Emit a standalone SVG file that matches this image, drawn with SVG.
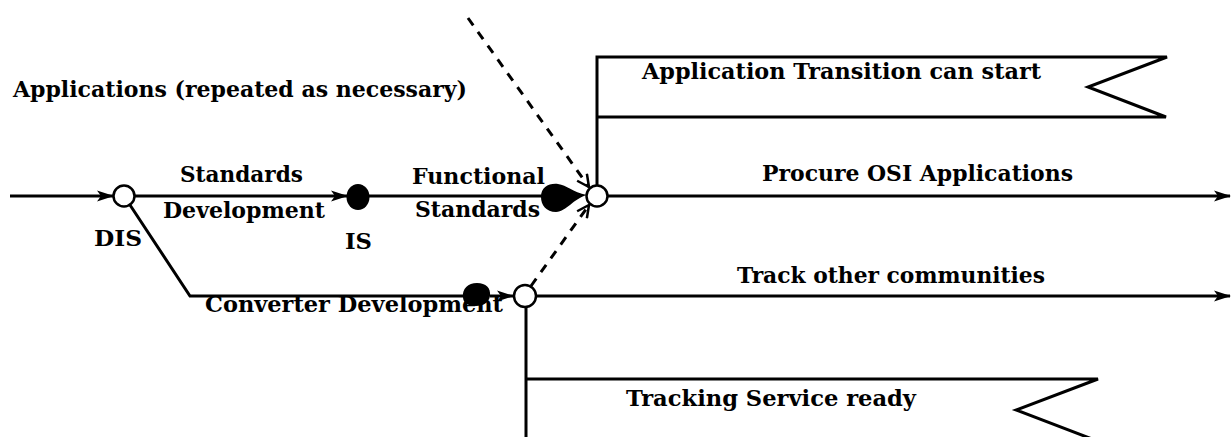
<svg xmlns="http://www.w3.org/2000/svg" width="1232" height="437" viewBox="0 0 1232 437">
  <style>
    .ln { stroke: #000; stroke-width: 3; fill: none; }
    .dash { stroke: #000; stroke-width: 3; fill: none; stroke-dasharray: 9 8; }
    .ev { fill: #fff; stroke: #000; stroke-width: 2.5; }
    .ms { fill: #000; stroke: none; }
    .flag { stroke: #000; stroke-width: 3; fill: none; stroke-linejoin: miter; }
    text { font-family: "DejaVu Serif", "Liberation Serif", serif; font-weight: bold; font-size: 22px; fill: #000; }
  </style>
  <defs>
    <marker id="arr" markerUnits="userSpaceOnUse" markerWidth="18" markerHeight="13" refX="16" refY="6.5" orient="auto">
      <path d="M0,1 L17,6.5 L0,12 L4,6.5 Z" fill="#000"/>
    </marker>
    <marker id="barb" markerUnits="userSpaceOnUse" markerWidth="16" markerHeight="14" refX="13" refY="7" orient="auto">
      <path d="M1,1 L13,7 L1,13" fill="none" stroke="#000" stroke-width="2.5"/>
    </marker>
  </defs>

  <!-- heading -->
  <text x="13" y="97" textLength="454" lengthAdjust="spacingAndGlyphs">Applications (repeated as necessary)</text>

  <!-- connectors -->
  <g id="connectors">
    <line class="ln" x1="10" y1="196" x2="113" y2="196" marker-end="url(#arr)"/>
    <line class="ln" x1="135" y1="196" x2="347" y2="196" marker-end="url(#arr)"/>
    <line class="ln" x1="369" y1="196" x2="545" y2="196"/>
    <line class="ln" x1="608" y1="196" x2="1230" y2="196" marker-end="url(#arr)"/>
    <polyline class="ln" points="130,205 190,296 466,296"/>
    <line class="ln" x1="490" y1="296" x2="513" y2="296" marker-end="url(#arr)"/>
    <line class="ln" x1="536" y1="296" x2="1230" y2="296" marker-end="url(#arr)"/>
    <line class="dash" x1="468" y1="18" x2="589" y2="187" marker-end="url(#barb)"/>
    <line class="dash" x1="531" y1="286" x2="589" y2="205" marker-end="url(#barb)"/>
  </g>

  <!-- milestone flags -->
  <g id="flag-application">
    <path class="flag" d="M597,186 V57 H1167 L1088,87 L1166,117 H597"/>
    <text x="642" y="79" textLength="399" lengthAdjust="spacingAndGlyphs">Application Transition can start</text>
  </g>
  <g id="flag-tracking">
    <path class="flag" d="M526,307 V437 M526,379 H1098 L1016,410 L1100,442"/>
    <text x="626" y="406" textLength="290" lengthAdjust="spacingAndGlyphs">Tracking Service ready</text>
  </g>

  <!-- events -->
  <g id="node-dis">
    <circle class="ev" cx="124" cy="196" r="10.5"/>
    <text x="94" y="246" textLength="48" lengthAdjust="spacingAndGlyphs">DIS</text>
  </g>
  <g id="node-standards-dev">
    <text x="180" y="182" textLength="123" lengthAdjust="spacingAndGlyphs">Standards</text>
    <text x="163" y="218" textLength="162" lengthAdjust="spacingAndGlyphs">Development</text>
  </g>
  <g id="node-is">
    <ellipse class="ms" cx="358" cy="197" rx="11.5" ry="13"/>
    <text x="345" y="249" textLength="27" lengthAdjust="spacingAndGlyphs">IS</text>
  </g>
  <g id="node-functional">
    <path class="ms" d="M541,197 C541,187 549,183 558,184 C567,185 572,192 587,195 C573,199 567,211 556,212 C546,212 541,205 541,197 Z"/>
    <text x="412" y="184" textLength="133" lengthAdjust="spacingAndGlyphs">Functional</text>
    <text x="415" y="217" textLength="125" lengthAdjust="spacingAndGlyphs">Standards</text>
  </g>
  <g id="node-join">
    <circle class="ev" cx="597" cy="196" r="10.5"/>
  </g>
  <g id="node-converter">
    <path class="ms" d="M463,297 C462,289 468,283 477,283 C486,283 491,288 490,296 C489,302 484,306 476,306 C468,306 463,303 463,297 Z"/>
    <text x="205" y="312" textLength="298" lengthAdjust="spacingAndGlyphs">Converter Development</text>
  </g>
  <g id="node-converter-done">
    <circle class="ev" cx="525" cy="296" r="11"/>
  </g>
  <g id="node-procure">
    <text x="762" y="181" textLength="311" lengthAdjust="spacingAndGlyphs">Procure OSI Applications</text>
  </g>
  <g id="node-track">
    <text x="737" y="283" textLength="308" lengthAdjust="spacingAndGlyphs">Track other communities</text>
  </g>
</svg>
